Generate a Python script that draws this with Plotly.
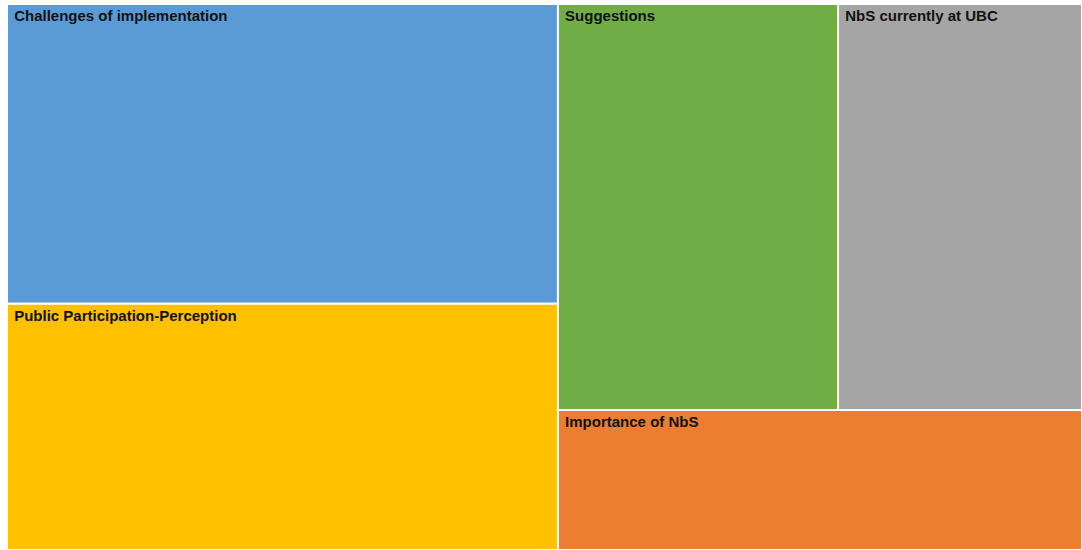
import plotly.graph_objects as go

labels = ["Challenges of implementation", "Public Participation-Perception",
          "Suggestions", "NbS currently at UBC", "Importance of NbS"]
parents = ["", "", "", "", ""]
values = [45, 37, 31, 27, 20]
colors = ["#5B9BD5", "#FFC000", "#70AD47", "#A5A5A5", "#ED7D31"]

fig = go.Figure(go.Treemap(
    labels=labels,
    parents=parents,
    values=values,
    sort=True,
    marker=dict(colors=colors, line=dict(color="white", width=2),
                pad=dict(t=0, l=0, r=0, b=0)),
    tiling=dict(packing="squarify", squarifyratio=1.618, pad=0),
    texttemplate="&nbsp;<b>%{label}</b>",
    textposition="top left",
    textfont=dict(family="Liberation Sans, Arial, sans-serif", size=15, color="#111111"),
    pathbar=dict(visible=False),
    hoverinfo="label+value",
))

fig.update_layout(
    width=1082, height=550,
    margin=dict(l=7, r=0, t=4, b=0),
    paper_bgcolor="white",
    showlegend=False,
)

fig.write_html("out.html",
               config={"displayModeBar": False},
               post_script="document.body.style.margin='0';document.body.style.overflow='hidden';")
